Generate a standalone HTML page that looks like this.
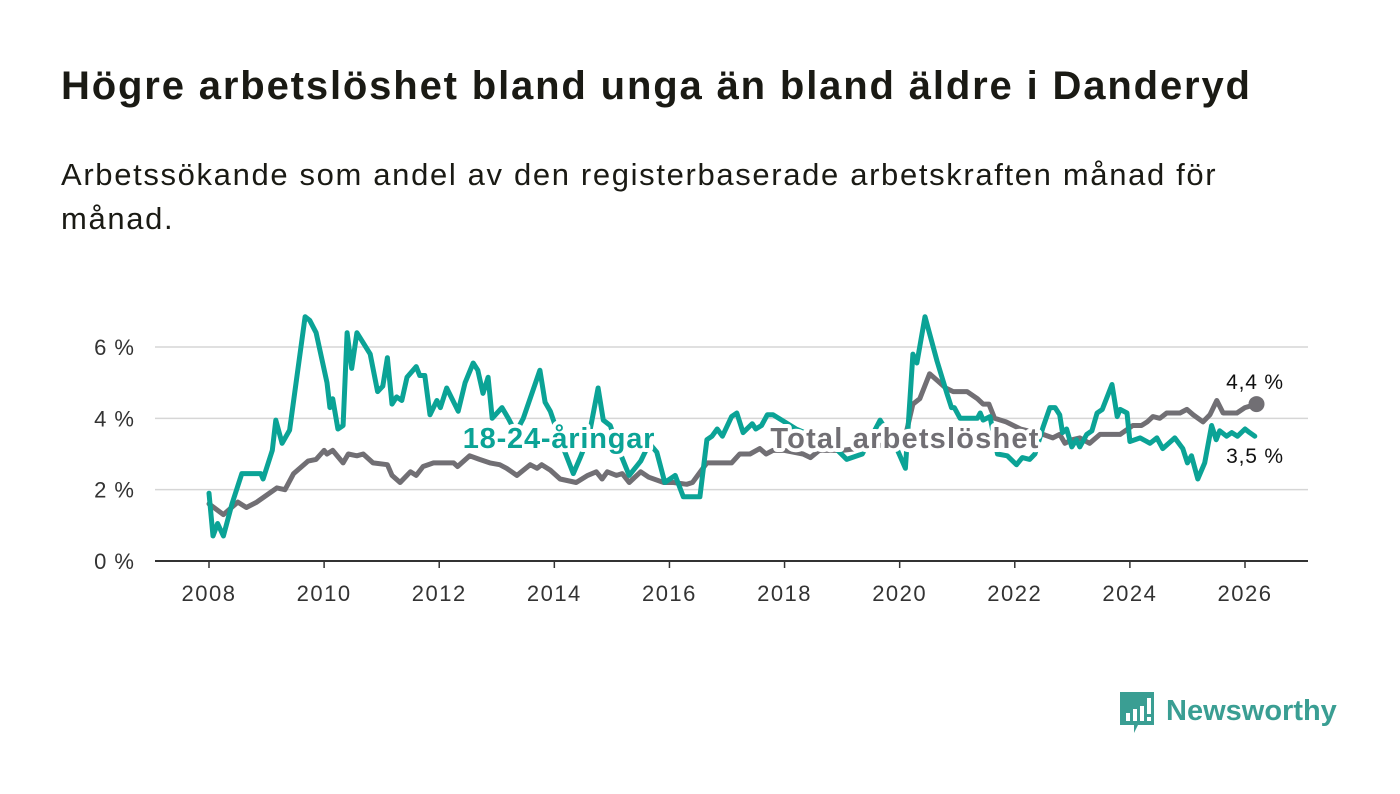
<!DOCTYPE html>
<html><head><meta charset="utf-8">
<style>
body{margin:0;background:#fff;font-family:"Liberation Sans","DejaVu Sans",sans-serif;}
#wrap{position:relative;width:1400px;height:794px;overflow:hidden;}
h1{position:absolute;left:61px;top:64px;margin:0;font-size:40px;font-weight:bold;color:#1a1a14;letter-spacing:1.85px;white-space:nowrap;}
p.sub{position:absolute;left:61px;top:153px;margin:0;font-size:31px;line-height:44px;color:#1a1a14;width:1240px;letter-spacing:1.65px;}
svg{position:absolute;left:0;top:0;}
</style></head><body>
<div id="wrap">
<h1>Högre arbetslöshet bland unga än bland äldre i Danderyd</h1>
<p class="sub">Arbetssökande som andel av den registerbaserade arbetskraften månad för månad.</p>
<svg id="chart" width="1400" height="794"></svg>
</div>
<script>
const yTicks=[0,2,4,6];
const yTickLabels=["0 %","2 %","4 %","6 %"];
const xTicks=[2008,2010,2012,2014,2016,2018,2020,2022,2024,2026];
const youthDates=[2008.0,2008.07,2008.15,2008.25,2008.4,2008.57,2008.9,2008.94,2009.1,2009.16,2009.27,2009.4,2009.67,2009.75,2009.86,2010.05,2010.1,2010.15,2010.24,2010.33,2010.4,2010.48,2010.57,2010.8,2010.93,2011.02,2011.1,2011.18,2011.26,2011.35,2011.44,2011.6,2011.66,2011.75,2011.84,2011.96,2012.02,2012.13,2012.33,2012.45,2012.59,2012.67,2012.76,2012.85,2012.92,2013.09,2013.2,2013.33,2013.46,2013.75,2013.84,2013.93,2014.1,2014.33,2014.45,2014.6,2014.76,2014.85,2014.97,2015.15,2015.3,2015.5,2015.65,2015.78,2015.92,2016.1,2016.24,2016.53,2016.65,2016.74,2016.83,2016.92,2017.08,2017.17,2017.28,2017.44,2017.5,2017.6,2017.7,2017.8,2018.0,2018.2,2018.5,2018.8,2019.08,2019.35,2019.66,2019.95,2020.1,2020.23,2020.3,2020.44,2020.65,2020.82,2020.9,2020.95,2021.05,2021.35,2021.4,2021.45,2021.57,2021.7,2021.87,2022.03,2022.13,2022.26,2022.35,2022.49,2022.61,2022.7,2022.78,2022.83,2022.9,2022.99,2023.07,2023.13,2023.25,2023.34,2023.43,2023.52,2023.69,2023.78,2023.83,2023.95,2024.0,2024.18,2024.35,2024.47,2024.57,2024.78,2024.92,2025.0,2025.07,2025.18,2025.3,2025.42,2025.5,2025.56,2025.68,2025.77,2025.87,2026.0,2026.08,2026.17];
const youthValues=[1.9,0.7,1.05,0.7,1.6,2.45,2.45,2.3,3.1,3.95,3.3,3.67,6.85,6.75,6.4,5.0,4.3,4.55,3.7,3.8,6.4,5.4,6.4,5.8,4.75,4.9,5.7,4.4,4.6,4.5,5.15,5.45,5.2,5.2,4.1,4.5,4.3,4.85,4.2,5.0,5.55,5.35,4.7,5.15,4.0,4.3,4.0,3.6,4.0,5.35,4.45,4.2,3.4,2.45,2.9,3.5,4.85,3.95,3.8,3.0,2.4,2.8,3.3,3.05,2.2,2.4,1.8,1.8,3.4,3.5,3.7,3.5,4.05,4.15,3.6,3.85,3.7,3.8,4.1,4.1,3.9,3.7,3.5,3.3,2.85,3.0,3.95,3.15,2.6,5.8,5.55,6.85,5.6,4.7,4.3,4.3,4.0,4.0,4.15,3.95,4.05,3.0,2.95,2.7,2.9,2.85,3.0,3.75,4.3,4.3,4.1,3.6,3.7,3.2,3.4,3.2,3.55,3.65,4.15,4.25,4.95,4.05,4.25,4.15,3.35,3.45,3.3,3.45,3.15,3.45,3.15,2.75,2.95,2.3,2.75,3.8,3.4,3.65,3.5,3.6,3.5,3.7,3.6,3.5];
const totalDates=[2008.0,2008.25,2008.5,2008.65,2008.83,2009.18,2009.32,2009.47,2009.72,2009.86,2010.0,2010.05,2010.15,2010.33,2010.42,2010.57,2010.68,2010.85,2011.1,2011.18,2011.32,2011.5,2011.6,2011.72,2011.9,2012.25,2012.32,2012.53,2012.7,2012.88,2013.05,2013.17,2013.35,2013.58,2013.7,2013.78,2013.93,2014.1,2014.38,2014.58,2014.73,2014.83,2014.92,2015.08,2015.18,2015.3,2015.5,2015.64,2015.9,2016.07,2016.3,2016.4,2016.65,2017.08,2017.22,2017.4,2017.57,2017.68,2017.8,2018.0,2018.32,2018.45,2018.6,2019.0,2019.5,2019.9,2020.1,2020.23,2020.35,2020.52,2020.66,2020.8,2020.93,2021.17,2021.35,2021.45,2021.55,2021.65,2021.85,2022.1,2022.35,2022.49,2022.66,2022.78,2022.87,2023.0,2023.13,2023.3,2023.48,2023.83,2024.05,2024.2,2024.3,2024.4,2024.52,2024.64,2024.87,2024.99,2025.1,2025.27,2025.39,2025.51,2025.62,2025.74,2025.86,2026.0,2026.2];
const totalValues=[1.6,1.3,1.65,1.5,1.65,2.05,2.0,2.45,2.8,2.85,3.1,3.0,3.1,2.75,3.0,2.95,3.0,2.75,2.7,2.4,2.2,2.5,2.4,2.65,2.75,2.75,2.65,2.95,2.85,2.75,2.7,2.6,2.4,2.7,2.6,2.7,2.55,2.3,2.2,2.4,2.5,2.3,2.5,2.4,2.45,2.2,2.5,2.35,2.2,2.2,2.15,2.2,2.75,2.75,3.0,3.0,3.15,3.0,3.1,3.1,3.0,2.9,3.1,3.1,3.2,3.3,3.5,4.4,4.55,5.25,5.05,4.85,4.75,4.75,4.55,4.4,4.4,4.0,3.9,3.7,3.6,3.55,3.45,3.55,3.3,3.4,3.45,3.3,3.55,3.55,3.8,3.8,3.9,4.05,4.0,4.15,4.15,4.25,4.1,3.9,4.1,4.5,4.15,4.15,4.15,4.3,4.4];

const NS='http://www.w3.org/2000/svg';
const svg=document.getElementById('chart');
const X0=155,X1=1308;
function xs(y){return 209+(y-2008)*(1245-209)/18;}
function ys(v){return 561-v*(561-347)/6;}
function mk(tag,attrs,parent){const e=document.createElementNS(NS,tag);for(const k in attrs)e.setAttribute(k,attrs[k]);(parent||svg).appendChild(e);return e;}

yTicks.forEach((t,i)=>{
  if(t>0){const g=mk('line',{x1:X0,x2:X1,y1:ys(t),y2:ys(t),stroke:'#d6d6d6','stroke-width':1.5});
  
  }
  const l=mk('text',{x:135,y:ys(t)+8,'text-anchor':'end','font-size':22,'letter-spacing':1,fill:'#333'});
  l.textContent=yTickLabels[i];
  
  
});
xTicks.forEach(t=>{
  const tk=mk('line',{x1:xs(t),x2:xs(t),y1:561,y2:568,stroke:'#333','stroke-width':1.5});
  
  
  const l=mk('text',{x:xs(t),y:601,'text-anchor':'middle','font-size':22,'letter-spacing':1.5,fill:'#333'});
  l.textContent=t;
  
  
});
const ax=mk('line',{x1:X0,x2:X1,y1:561,y2:561,stroke:'#333','stroke-width':2});



function path(d,v){return d.map((t,i)=>(i?'L':'M')+xs(t).toFixed(1)+','+ys(v[i]).toFixed(1)).join('');}
const tl=mk('path',{d:path(totalDates,totalValues),fill:'none',stroke:'#716f74','stroke-width':5,'stroke-linejoin':'round','stroke-linecap':'round'});


const yl=mk('path',{d:path(youthDates,youthValues),fill:'none',stroke:'#0ba396','stroke-width':5,'stroke-linejoin':'round','stroke-linecap':'round'});



const lastT=totalValues[totalValues.length-1];
const dot=mk('circle',{cx:xs(totalDates[totalDates.length-1]),cy:ys(lastT),r:8,fill:'#716f74'});



function lab(txt,x,y,col,size,bold,ls,name){
  const t=mk('text',{x:x,y:y,'text-anchor':'middle','font-size':size,'letter-spacing':ls,'font-weight':bold?'bold':'normal',fill:col,stroke:'#fff','stroke-width':bold?8:4,'paint-order':'stroke','stroke-linejoin':'round'});
  t.textContent=txt;
  
  
}
lab('18-24-åringar',559,448,'#0ba396',29,true,0.8,'youth-series-label');
lab('Total arbetslöshet',905,448,'#716f74',29,true,1.2,'total-series-label');
lab('4,4 %',1255,389,'#111',21,false,0.8,'total-end-value');
lab('3,5 %',1255,463,'#111',21,false,0.8,'youth-end-value');

const lg=mk('g',{});


mk('path',{d:'M1120,692 h34 v33 h-16 l-4,8 v-8 h-14 z',fill:'#3a9e93'},lg);
mk('rect',{x:1126,y:713,width:4,height:8,fill:'#fff'},lg);
mk('rect',{x:1133,y:709,width:4,height:12,fill:'#fff'},lg);
mk('rect',{x:1140,y:706,width:4,height:15,fill:'#fff'},lg);
mk('rect',{x:1147,y:698,width:4,height:16,fill:'#fff'},lg);
mk('rect',{x:1147,y:717,width:4,height:4,fill:'#fff'},lg);
const lt=mk('text',{x:1166,y:720,'font-size':29,'font-weight':'bold',fill:'#3a9e93'},lg);
lt.textContent='Newsworthy';
</script>
</body></html>
